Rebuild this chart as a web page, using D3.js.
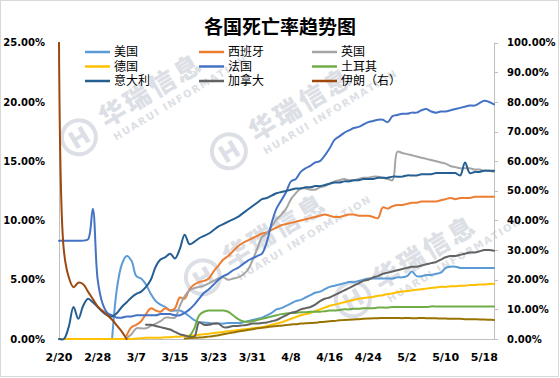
<!DOCTYPE html>
<html>
<head>
<meta charset="utf-8">
<script src="https://cdn.jsdelivr.net/npm/d3@7"></script>
<style>
  body { margin: 0; background: #fff; }
  svg { display: block; }
</style>
</head>
<body>
<div class="chart"></div>
<script>
const width = 560, height = 378;

// categories: one point per day, 2/20 .. 5/20
const dates = d3.timeDay.range(new Date(2020, 1, 20), new Date(2020, 4, 21));
const tickLabels = ["2/20","2/28","3/7","3/15","3/23","3/31","4/8","4/16","4/24","5/2","5/10","5/18"];
const leftTicks = [0, 5, 10, 15, 20, 25];
const rightTicks = [0, 10, 20, 30, 40, 50, 60, 70, 80, 90, 100];

// death rate in %, null = no data yet
const usRate = [...Array(11).fill(null),
  0.1,4.3,6.3,7.0,6.6,5.3,5.1,4.6,3.8,3.2,
  2.9,2.7,2.4,2.4,2.4,2.2,1.9,1.6,1.4,1.4,
  1.35,1.3,1.3,1.3,1.35,1.35,1.35,1.4,1.5,1.6,
  1.7,1.8,2.0,2.2,2.5,2.6,2.8,3.0,3.2,3.3,
  3.5,3.7,3.9,4.0,4.2,4.4,4.5,4.6,4.7,4.8,
  4.8,4.9,5.0,5.1,5.1,5.1,5.1,5.1,5.1,5.2,
  5.2,5.3,5.7,5.3,5.3,5.4,5.4,5.5,5.6,6.0,
  6.1,6.1,6.0,6.0,6.0,6.0,6.0,6.0,6.0,6.0];
const spainRate = [...Array(14).fill(null),
  0.3,1.0,1.2,1.5,2.1,2.6,2.4,
  2.3,2.6,2.4,2.6,3.5,3.4,4.2,4.6,4.8,4.9,
  5.1,5.7,6.2,6.7,7.0,7.4,7.8,8.1,8.3,8.5,
  8.7,8.9,9.0,9.2,9.4,9.6,9.7,9.8,9.9,10.0,
  10.1,10.2,10.3,10.4,10.5,10.4,10.3,10.3,10.4,10.5,
  10.5,10.4,10.4,10.4,10.3,10.2,11.1,11.0,11.2,11.3,
  11.3,11.4,11.5,11.5,11.6,11.6,11.6,11.6,11.7,11.8,
  11.9,11.8,11.9,11.9,11.9,12.0,12.0,12.0,12.0,12.0];
const ukRate = [...Array(14).fill(null),
  0.1,0.4,0.9,0.9,0.9,1.1,1.3,
  1.5,1.8,1.8,1.8,2.8,3.6,4.1,4.3,4.4,4.5,
  4.7,4.9,5.1,5.2,5.0,5.1,5.2,5.4,5.8,6.6,
  7.6,8.6,8.9,9.5,10.1,10.5,11.0,11.8,12.3,12.7,
  12.7,12.6,12.6,12.8,12.9,13.1,13.3,13.4,13.5,13.4,
  13.4,13.5,13.6,13.6,13.7,13.7,13.6,13.5,13.4,15.8,
  15.7,15.6,15.5,15.4,15.3,15.2,15.1,15.0,14.9,14.8,
  14.6,14.5,14.4,14.4,14.4,14.3,14.3,14.2,14.2,14.1];
const germanyRate = [
  0,0,0,0,0,0,0,0,0,0,
  0,0,0,0,0,0,0.05,0.05,0.1,0.1,
  0.1,0.1,0.15,0.15,0.2,0.2,0.25,0.3,0.3,0.35,
  0.4,0.45,0.5,0.55,0.6,0.65,0.7,0.75,0.8,0.85,
  0.9,0.95,1.0,1.1,1.2,1.3,1.4,1.55,1.7,1.85,
  2.0,2.1,2.2,2.35,2.5,2.65,2.8,2.9,3.0,3.1,
  3.2,3.3,3.4,3.45,3.5,3.55,3.65,3.7,3.8,3.85,
  3.95,4.0,4.05,4.1,4.15,4.2,4.25,4.3,4.35,4.4,
  4.4,4.45,4.45,4.5,4.5,4.55,4.55,4.6,4.6,4.65,4.65];
const franceRate = [
  8.3,8.3,8.3,8.3,8.3,8.3,8.4,11.0,5.0,3.0,
  2.2,2.0,1.8,1.8,1.9,1.9,2.0,2.0,2.0,2.0,
  2.0,2.1,2.1,2.1,2.0,2.0,2.2,2.5,2.9,3.4,
  3.9,4.2,4.6,5.0,5.3,5.5,5.8,6.0,6.3,6.6,
  6.8,7.0,7.2,8.2,9.8,11.0,11.7,12.4,13.3,13.5,
  14.1,14.4,14.6,14.9,15.0,15.5,16.1,16.8,17.1,17.4,
  17.6,17.8,17.9,18.1,18.3,18.4,18.5,18.5,18.3,18.8,
  18.9,19.0,19.0,19.1,19.1,19.3,19.4,19.2,19.1,19.2,
  19.2,19.3,19.4,19.5,19.6,19.7,19.7,19.9,20.1,20.0,19.8];
const turkeyRate = [...Array(27).fill(null),
  0.2,0.9,2.0,
  2.3,2.4,2.4,2.4,2.4,2.3,2.0,1.7,1.5,1.45,
  1.5,1.6,1.7,1.8,1.9,2.0,2.1,2.15,2.2,2.2,
  2.25,2.25,2.3,2.3,2.3,2.35,2.4,2.4,2.45,2.5,
  2.5,2.55,2.55,2.6,2.6,2.6,2.65,2.65,2.65,2.7,
  2.7,2.7,2.7,2.7,2.7,2.7,2.7,2.75,2.75,2.75,
  2.75,2.75,2.75,2.75,2.75,2.75,2.75,2.75,2.75,2.75,2.75];
const italyRate = [
  0,0,1.0,2.7,1.7,2.8,3.4,3.1,2.7,2.3,
  2.0,1.9,2.2,2.7,3.1,3.5,3.8,4.0,4.4,5.0,
  6.1,6.7,6.9,7.2,6.8,7.6,8.8,8.0,8.2,8.5,
  8.7,8.9,9.2,9.5,9.7,9.9,10.1,10.3,10.6,10.9,
  11.2,11.5,11.8,11.9,12.1,12.3,12.4,12.5,12.6,12.7,
  12.7,12.8,12.8,12.9,12.9,13.0,13.1,13.2,13.2,13.3,
  13.3,13.4,13.4,13.5,13.5,13.5,13.6,13.6,13.6,13.7,
  13.7,13.7,13.8,13.8,13.8,13.9,13.9,13.9,14.0,14.0,
  14.0,14.0,14.0,13.8,14.9,14.0,14.1,14.1,14.2,14.2,14.2];
const canadaRate = [...Array(18).fill(null),
  1.2,1.2,
  1.1,1.0,0.9,0.8,0.6,0.4,0.3,0.2,0.2,1.4,
  1.2,1.2,1.3,1.3,1.0,1.0,1.1,1.1,1.15,1.2,
  1.3,1.3,1.35,1.4,1.5,1.6,1.8,2.0,2.2,2.3,
  2.5,2.6,2.7,2.9,3.2,3.4,3.5,3.7,3.9,4.1,
  4.3,4.5,4.7,4.9,5.0,5.2,5.3,5.5,5.6,5.7,
  5.8,5.9,6.0,6.1,6.1,6.2,6.3,6.4,6.5,6.7,
  6.9,7.0,7.0,7.1,7.2,7.3,7.3,7.4,7.5,7.5,7.45];
// right axis
const iranRate = [
  100,30,21,17.5,19,18.5,16,13.5,11,9.5,
  8,6.5,4.5,2.5,0,
  ...Array(76).fill(null)];
const otherRate = [...Array(26).fill(null),
  0.2,0.3,0.4,0.5,
  0.6,0.8,1.0,1.3,1.6,1.9,2.2,2.5,2.8,3.0,
  3.3,3.6,3.8,4.0,4.2,4.4,4.5,4.7,4.9,5.0,
  5.2,5.3,5.4,5.5,5.7,5.8,6.0,6.1,6.3,6.4,
  6.5,6.6,6.7,6.8,6.9,7.0,7.0,7.1,7.1,7.1,
  7.1,7.0,7.1,7.0,7.0,7.1,7.0,7.0,7.0,6.9,
  6.9,6.8,6.8,6.8,6.7,6.7,6.7,6.6,6.6,6.5,6.4];

const series = [
  { name: "美国", values: usRate, color: "#5B9BD5", axis: "left" },
  { name: "西班牙", values: spainRate, color: "#ED7D31", axis: "left" },
  { name: "英国", values: ukRate, color: "#A5A5A5", axis: "left" },
  { name: "德国", values: germanyRate, color: "#FFC000", axis: "left" },
  { name: "法国", values: franceRate, color: "#4472C4", axis: "left" },
  { name: "土耳其", values: turkeyRate, color: "#70AD47", axis: "left" },
  { name: "意大利", values: italyRate, color: "#255E91", axis: "left" },
  { name: "加拿大", values: canadaRate, color: "#636363", axis: "left" },
  { name: "伊朗（右）", values: iranRate, color: "#9E480E", axis: "right" },
  { name: null, values: otherRate, color: "#997300", axis: "right" }
];

const plot = { left: 59, right: 494, top: 42.7, bottom: 339 };
const axisFont = "'DejaVu Sans', Verdana, sans-serif";
const cjkFont = "'Noto Sans CJK SC', 'Noto Sans', sans-serif";
// latin face first keeps the legend line box tight, CJK glyphs fall back
const legendFont = "'Liberation Sans', 'Noto Sans CJK SC', sans-serif";

const svg = d3.select(".chart").append("svg")
  .attr("width", width)
  .attr("height", height);

svg.append("rect")
  .attr("x", 0.5).attr("y", 0.5)
  .attr("width", width - 2).attr("height", height - 2)
  .attr("fill", "#fff")
  .attr("stroke", "#D9D9D9");

const parseLabel = s => {
  const [m, d] = s.split("/").map(Number);
  return new Date(2020, m - 1, d);
};

const x = d3.scaleTime()
  .domain([dates[0], dates[dates.length - 1]])
  .range([plot.left, plot.right]);
const yLeft = d3.scaleLinear().domain([0, 25]).range([plot.bottom, plot.top]);
const yRight = d3.scaleLinear().domain([0, 100]).range([plot.bottom, plot.top]);

// watermarks, one text per glyph, laid out by measured advance
const wmColor = "#DCDFE5";
const setGlyphs = (w, str, x0, y0, font, size, weight, gap) => {
  let cursor = x0;
  Array.from(str).forEach(c => {
    if (c === " ") { cursor += size * 0.5; return; }
    const t = w.append("text")
      .attr("x", cursor).attr("y", y0)
      .style("font-family", font)
      .style("font-weight", weight)
      .style("font-size", size + "px")
      .text(c);
    cursor += t.node().getComputedTextLength() + gap;
  });
};
const setWatermark = (g, cx, cy) => {
  const w = g.append("g")
    .attr("transform", `translate(${cx},${cy}) rotate(-31)`)
    .attr("fill", wmColor);
  w.append("circle")
    .attr("cx", -28).attr("cy", -6).attr("r", 17)
    .attr("fill", "none")
    .attr("stroke", wmColor)
    .attr("stroke-width", 4);
  w.append("text")
    .attr("x", -28).attr("y", 3)
    .attr("text-anchor", "middle")
    .style("font-family", axisFont)
    .style("font-weight", "bold")
    .style("font-size", "24px")
    .text("H");
  setGlyphs(w, "华瑞信息", 0, 0, cjkFont, 26, 900, 3);
  setGlyphs(w, "HUARUI INFORMATION", 2, 16, axisFont, 10, "bold", 1.5);
};
const wm = svg.append("g");
setWatermark(wm, 106, 128);
setWatermark(wm, 256, 142);
setWatermark(wm, 230, 268);
setWatermark(wm, 380, 290);

// title
svg.append("text")
  .attr("x", 280).attr("y", 33.5)
  .attr("text-anchor", "middle")
  .style("font-family", cjkFont)
  .style("font-weight", "bold")
  .style("font-size", "19px")
  .text("各国死亡率趋势图");

// axes
const axisColor = "#BFBFBF";
svg.append("line")
  .attr("x1", plot.left + 0.5).attr("x2", plot.left + 0.5)
  .attr("y1", plot.top).attr("y2", plot.bottom)
  .attr("stroke", axisColor);
svg.append("line")
  .attr("x1", plot.right + 0.5).attr("x2", plot.right + 0.5)
  .attr("y1", plot.top).attr("y2", plot.bottom)
  .attr("stroke", axisColor);
svg.append("line")
  .attr("x1", plot.left).attr("x2", plot.right)
  .attr("y1", plot.bottom + 0.5).attr("y2", plot.bottom + 0.5)
  .attr("stroke", axisColor);

svg.append("g").selectAll("text")
  .data(leftTicks)
  .join("text")
  .attr("x", 45)
  .attr("y", d => yLeft(d))
  .attr("dy", "0.36em")
  .attr("text-anchor", "end")
  .style("font-family", axisFont)
  .style("font-weight", "bold")
  .style("font-size", "10px")
  .text(d => d3.format(".2f")(d) + "%");

svg.append("g").selectAll("line")
  .data(rightTicks)
  .join("line")
  .attr("x1", plot.right).attr("x2", plot.right + 4)
  .attr("y1", d => Math.round(yRight(d)) + 0.5)
  .attr("y2", d => Math.round(yRight(d)) + 0.5)
  .attr("stroke", axisColor);

svg.append("g").selectAll("text")
  .data(rightTicks)
  .join("text")
  .attr("x", 507)
  .attr("y", d => yRight(d))
  .attr("dy", "0.36em")
  .style("font-family", axisFont)
  .style("font-weight", "bold")
  .style("font-size", "10px")
  .text(d => d3.format(".2f")(d) + "%");

svg.append("g").selectAll("text")
  .data(tickLabels)
  .join("text")
  .attr("x", d => x(parseLabel(d)))
  .attr("y", 361)
  .attr("text-anchor", "middle")
  .style("font-family", axisFont)
  .style("font-weight", "bold")
  .style("font-size", "11px")
  .text(d => d);

// lines
const genLine = yScale => d3.line()
  .defined(p => p.v != null)
  .x(p => x(p.date))
  .y(p => yScale(p.v))
  .curve(d3.curveCatmullRom.alpha(0.5));

svg.append("g").selectAll("path")
  .data(series)
  .join("path")
  .attr("d", s => genLine(s.axis === "left" ? yLeft : yRight)(
    dates.map((date, i) => ({ date, v: s.values[i] }))))
  .attr("fill", "none")
  .attr("stroke", s => s.color)
  .attr("stroke-width", 2)
  .attr("stroke-linejoin", "round")
  .attr("stroke-linecap", "round");

// legend, 3 columns
const legendCols = [85, 199, 312];
const legendRows = [52, 66.5, 81];
const legend = svg.append("g").selectAll("g")
  .data(series.filter(s => s.name))
  .join("g")
  .attr("transform", (s, i) => `translate(${legendCols[i % 3]},${legendRows[Math.floor(i / 3)]})`);
legend.append("line")
  .attr("x1", 0).attr("x2", 25)
  .attr("stroke", s => s.color)
  .attr("stroke-width", 2.5);
legend.append("text")
  .attr("x", 29)
  .attr("dy", "0.36em")
  .style("font-family", legendFont)
  .style("font-size", "12px")
  .text(s => s.name);
</script>
</body>
</html>
